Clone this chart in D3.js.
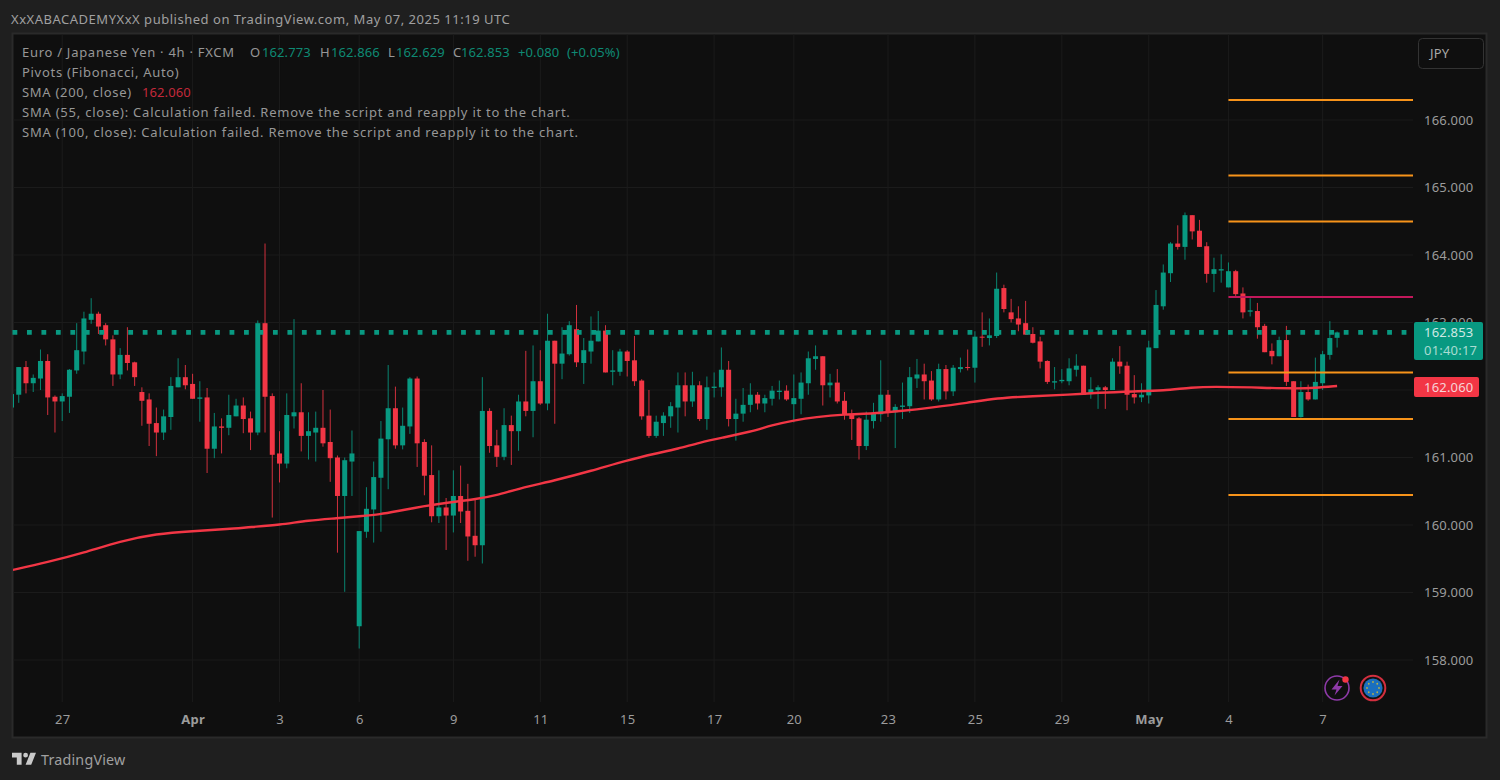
<!DOCTYPE html>
<html><head><meta charset="utf-8">
<style>
html,body{margin:0;padding:0;background:#1f1f1f;overflow:hidden}
svg{display:block}
text{font-family:"Noto Sans",sans-serif;font-size:13px;letter-spacing:.2px}
</style>
<script src="https://cdn.jsdelivr.net/npm/d3@7/dist/d3.min.js"></script>
</head><body><svg id="c" width="1500" height="780"></svg>
<script>
const openP=[161.74,161.93,162.34,162.10,162.17,162.43,161.90,161.83,161.90,162.29,
162.57,163.04,163.13,162.96,162.75,162.23,162.52,162.41,161.97,161.86,
161.51,161.37,161.60,162.04,162.19,162.09,161.87,161.89,161.13,161.46,
161.44,161.61,161.77,161.58,161.37,162.99,161.91,161.06,160.91,161.61,
161.67,161.32,161.37,161.44,161.23,161.00,160.43,160.94,158.50,159.90,
160.23,160.70,161.27,161.73,161.18,161.46,162.17,161.23,160.74,160.13,
160.26,160.14,160.43,160.21,159.84,159.70,161.69,161.18,161.01,161.48,
161.39,161.83,161.69,162.13,161.80,162.73,162.39,162.53,162.90,162.40,
162.57,162.72,162.88,162.27,162.27,162.57,162.44,162.14,161.62,161.32,
161.51,161.61,161.74,162.07,161.83,162.07,161.57,162.03,162.04,162.30,
161.57,161.65,161.78,161.93,161.80,161.87,161.97,161.99,161.79,161.87,
162.10,162.46,162.50,162.07,162.11,161.84,161.63,161.58,161.17,161.54,
161.64,161.93,161.67,161.75,161.76,162.17,162.23,162.14,161.86,162.31,
161.98,162.31,162.34,162.33,162.79,162.77,162.80,163.51,163.15,163.06,
162.99,162.83,162.72,162.43,162.11,162.13,162.13,162.30,162.36,161.94,
162.00,162.04,162.00,162.42,162.36,161.94,161.89,161.92,162.62,163.24,
163.73,164.17,164.12,164.59,164.36,164.13,163.72,163.77,163.52,163.76,
163.43,163.16,163.17,162.95,162.58,162.50,162.74,162.13,161.60,161.97,
161.86,162.10,162.52,162.773];
const highP=[161.94,162.34,162.43,162.23,162.60,162.53,161.92,161.95,162.31,162.99,
163.16,163.36,163.16,162.99,162.81,162.62,162.93,162.42,162.04,161.95,
161.74,161.71,162.19,162.47,162.37,162.24,162.13,162.03,161.66,161.58,
161.93,161.87,161.89,161.68,163.03,164.17,161.95,161.39,161.95,163.05,
162.10,161.67,161.68,162.00,161.71,161.03,161.00,161.40,159.91,160.56,
160.94,161.54,162.37,162.05,161.74,162.19,162.20,161.27,161.18,160.81,
160.40,160.81,160.88,160.61,160.37,162.19,161.73,161.41,161.73,161.62,
161.93,162.58,162.66,162.59,163.13,162.73,162.93,163.02,163.26,162.77,
163.09,163.17,162.96,162.59,162.61,162.59,162.80,162.16,162.00,161.62,
161.67,161.82,162.26,162.26,162.27,162.13,162.20,162.26,162.63,162.43,
161.87,162.03,162.10,161.97,161.93,162.06,162.14,162.07,162.23,162.26,
162.57,162.66,162.50,162.24,162.31,161.97,161.71,161.60,161.68,161.81,
162.44,162.00,161.79,162.11,162.34,162.46,162.39,162.28,162.39,162.37,
162.37,162.48,162.60,162.87,163.15,163.06,163.74,163.56,163.35,163.24,
163.32,162.93,162.79,162.44,162.34,162.31,162.47,162.53,162.36,162.19,
162.07,162.06,162.47,162.65,162.42,162.22,162.10,162.73,163.48,163.86,
164.19,164.44,164.63,164.59,164.52,164.19,163.96,164.01,163.89,163.78,
163.52,163.36,163.29,162.98,162.69,162.79,162.95,162.13,162.13,162.08,
162.48,162.58,163.02,162.866];
const lowP=[161.74,161.81,161.95,161.97,162.00,161.63,161.37,161.54,161.66,162.24,
162.38,162.98,162.83,162.66,162.06,162.16,162.29,162.06,161.47,161.17,
161.02,161.26,161.41,162.04,162.01,161.87,161.53,160.77,160.99,161.06,
161.33,161.61,161.36,161.11,161.33,161.37,160.11,160.63,160.84,161.43,
161.09,160.97,160.94,161.16,160.64,159.59,159.01,160.43,158.17,159.81,
159.74,159.90,160.53,161.13,161.12,161.35,160.86,160.44,160.04,160.03,
159.63,159.89,160.03,159.47,159.53,159.43,161.07,160.86,160.96,160.89,
161.10,161.61,161.30,161.78,161.70,161.50,162.16,162.51,162.34,162.09,
162.39,162.72,162.26,162.07,162.21,162.20,162.06,161.56,161.29,161.29,
161.32,161.44,161.37,161.61,161.75,161.54,161.41,161.89,161.90,161.46,
161.25,161.53,161.67,161.71,161.67,161.77,161.86,161.84,161.52,161.64,
161.93,162.30,161.77,161.89,161.80,161.56,161.26,160.97,161.11,161.43,
161.53,161.60,161.14,161.57,161.66,162.03,161.86,161.84,161.83,161.86,
161.91,162.26,162.29,162.11,162.64,162.66,162.77,163.15,163.00,162.87,
162.82,162.69,162.32,162.09,162.01,162.10,162.07,162.20,161.93,161.87,
161.72,161.72,162.00,162.24,161.70,161.80,161.82,161.80,162.62,163.19,
163.60,164.08,163.93,164.23,164.12,163.59,163.45,163.59,163.52,163.37,
163.06,163.09,162.76,162.56,162.38,162.50,162.06,161.60,161.59,161.84,
161.86,162.00,162.45,162.629];
const closeP=[161.94,162.34,162.10,162.18,162.43,161.89,161.83,161.91,162.30,162.59,
163.06,163.13,162.94,162.75,162.23,162.52,162.40,162.19,161.84,161.50,
161.37,161.61,162.06,162.19,162.07,161.87,161.89,161.13,161.46,161.44,
161.63,161.77,161.57,161.37,162.99,161.90,161.04,160.91,161.63,161.67,
161.32,161.39,161.44,161.21,160.99,160.43,160.96,161.06,159.91,160.24,
160.71,161.28,161.73,161.18,161.47,162.17,161.21,160.73,160.13,160.26,
160.14,160.43,160.20,159.83,159.70,161.69,161.17,161.01,161.48,161.39,
161.83,161.69,162.13,161.80,162.73,162.39,162.54,162.96,162.41,162.59,
162.73,162.88,162.26,162.29,162.57,162.43,162.13,161.61,161.32,161.53,
161.62,161.76,162.07,161.83,162.07,161.57,162.04,162.05,162.30,161.57,
161.65,161.78,161.93,161.80,161.88,161.99,161.99,161.86,161.88,162.11,
162.47,162.50,162.07,162.11,161.83,161.63,161.57,161.17,161.56,161.65,
161.93,161.67,161.75,161.77,162.19,162.23,162.13,161.86,162.31,161.98,
162.33,162.34,162.33,162.79,162.78,162.81,163.50,163.20,163.05,162.97,
162.82,162.70,162.42,162.12,162.13,162.15,162.32,162.36,161.93,162.01,
162.04,162.00,162.42,162.35,161.93,161.89,161.93,162.63,163.26,163.74,
164.17,164.12,164.59,164.35,164.12,163.72,163.79,163.79,163.76,163.42,
163.15,163.18,162.93,162.56,162.50,162.74,162.12,161.60,161.97,161.86,
162.12,162.53,162.77,162.853];

const smaIndex=[0,5,10,15,20,25,30,33,37,41,45,48,51,53,57,60,64,67,70,75,80,85,89,92,95,98,102,105,108,111,115,119,123,127,132,136,141,146,150,155,159,163,166,171,177,180,183];
const smaValue=[159.33,159.45,159.59,159.76,159.87,159.91,159.94,159.97,160.00,160.07,160.10,160.13,160.16,160.20,160.28,160.33,160.38,160.44,160.54,160.66,160.80,160.96,161.06,161.13,161.22,161.29,161.38,161.48,161.55,161.60,161.64,161.65,161.69,161.74,161.81,161.88,161.91,161.93,161.96,161.98,161.99,162.04,162.05,162.04,162.02,162.03,162.06];

const pivotLevels=[166.296,165.178,164.496,163.378,162.26,161.57,160.444];
const pivotNames=["R","R","R","P","S","S","S"];
const priceTicks=[158,159,160,161,162,163,164,165,166];
const priceTickLabels=[158,159,160,161,163,164,165,166];
const dateTickIndex=[7,25,37,48,61,73,85,97,108,121,133,145,157,168,181];
const dateTickLabel=["27","Apr","3","6","9","11","15","17","20","23","25","29","May","4","7"];
const lastPrice=162.853, smaLast=162.060;
const TXT="#979797",VAL="#0e8a74";
const legendItems=[
 ["Euro / Japanese Yen · 4h · FXCM",22,52,TXT,.72],
 ["O",250,52,TXT,.2],["162.773",262,52,VAL,.1],
 ["H",320,52,TXT,.2],["162.866",331,52,VAL,.1],
 ["L",388,52,TXT,.2],["162.629",396,52,VAL,.1],
 ["C",453,52,TXT,.2],["162.853",461,52,VAL,.1],
 ["+0.080",518,52,VAL,.1],["(+0.05%)",567,52,VAL,.1],
 ["Pivots (Fibonacci, Auto)",22,72,TXT,.7],
 ["SMA (200, close)",22,92,TXT,.7],["162.060",142,92,"#c4293b",.1],
 ["SMA (55, close): Calculation failed. Remove the script and reapply it to the chart.",22,112,TXT,.77],
 ["SMA (100, close): Calculation failed. Remove the script and reapply it to the chart.",22,132,TXT,.77]
];

const UP="#089981",DOWN="#F23645";
const svg=d3.select("#c");
const x=d3.scaleLinear().domain([0,183]).range([11.5,1337.1]);
const y=d3.scaleLinear().domain([158,166]).range([660,120]);
const PL=13,PR=1413,PT=34,PB=702;

svg.append("rect").attr("width",1500).attr("height",780).attr("fill","#1f1f1f");
svg.append("rect").attr("x",12.5).attr("y",33.5).attr("width",1474).attr("height",704)
  .attr("fill","#0f0f0f").attr("stroke","#2a2a2a").attr("stroke-width",2);
svg.append("defs").append("clipPath").attr("id","plot").append("rect")
  .attr("x",PL).attr("y",PT).attr("width",PR-PL).attr("height",PB-PT);

const gridC="#1b1b1b";
svg.append("g").selectAll("line").data(priceTicks).join("line")
 .attr("x1",PL).attr("x2",PR).attr("y1",d=>y(d)).attr("y2",d=>y(d)).attr("stroke",gridC);
svg.append("g").selectAll("line").data(dateTickIndex).join("line")
 .attr("x1",d=>x(d)).attr("x2",d=>x(d)).attr("y1",PT).attr("y2",PB).attr("stroke",gridC);

const plot=svg.append("g").attr("clip-path","url(#plot)");
const idx=d3.range(openP.length);
const col=i=>closeP[i]>=openP[i]?UP:DOWN;
plot.append("g").selectAll("line").data(idx).join("line")
 .attr("x1",i=>x(i)).attr("x2",i=>x(i)).attr("y1",i=>y(highP[i])).attr("y2",i=>y(lowP[i]))
 .attr("stroke",col).attr("stroke-width",1).attr("stroke-opacity",.85);
plot.append("g").selectAll("rect").data(idx).join("rect")
 .attr("x",i=>x(i)-2.5).attr("width",5)
 .attr("y",i=>y(Math.max(openP[i],closeP[i])))
 .attr("height",i=>Math.max(1,Math.abs(y(openP[i])-y(closeP[i]))))
 .attr("fill",col);

plot.append("path")
 .attr("d",d3.line().x((d,i)=>x(smaIndex[i])).y(d=>y(d)).curve(d3.curveBasis)(smaValue))
 .attr("fill","none").attr("stroke","#F23645").attr("stroke-width",2.4);

svg.append("g").selectAll("line").data(pivotLevels).join("line")
 .attr("x1",x(168)).attr("x2",PR).attr("y1",d=>y(d)).attr("y2",d=>y(d))
 .attr("stroke",(d,i)=>pivotNames[i]==="P"?"#c2185b":"#f7931a").attr("stroke-width",2);

svg.append("line").attr("x1",12.5).attr("x2",PR).attr("y1",y(lastPrice)).attr("y2",y(lastPrice))
 .attr("stroke",UP).attr("stroke-width",4.6).attr("stroke-dasharray","4.8 9.67");

// axes
const axisR=d3.axisRight(y).tickValues(priceTickLabels).tickFormat(d3.format(".3f")).tickSize(0).tickPadding(11);
const gy=svg.append("g").attr("transform",`translate(${PR},0)`).call(axisR);
gy.select(".domain").remove();
gy.selectAll("text").attr("fill","#9c9c9c").style("font-size","13px");
const axisB=d3.axisBottom(x).tickValues(dateTickIndex).tickFormat((d,i)=>dateTickLabel[i]).tickSize(0).tickPadding(13);
const gx=svg.append("g").attr("transform",`translate(0,${PB})`).call(axisB);
gx.select(".domain").remove();
gx.selectAll("text").attr("fill","#9c9c9c").style("font-size","13px")
  .style("font-weight",(d,i)=>/[A-Za-z]/.test(dateTickLabel[i])?"700":"400");

// price labels
svg.append("rect").attr("x",1414).attr("y",322).attr("width",69).attr("height",38).attr("rx",2).attr("fill",UP);
svg.append("text").attr("x",1424).attr("y",337).attr("fill","#cfe9e4").text(lastPrice.toFixed(3));
svg.append("text").attr("x",1424).attr("y",355).attr("fill","#a9dcd2").text("01:40:17");
svg.append("rect").attr("x",1414).attr("y",377).attr("width",65).attr("height",20).attr("rx",2).attr("fill",DOWN);
svg.append("text").attr("x",1424).attr("y",391.5).attr("fill","#f6d3d7").text(smaLast.toFixed(3));

// legend + header
svg.append("g").selectAll("text").data(legendItems).join("text")
 .attr("x",d=>d[1]).attr("y",d=>d[2]+4.5).attr("fill",d=>d[3]).style("letter-spacing",d=>d[4]+"px").text(d=>d[0]);
svg.append("text").attr("x",11).attr("y",23.5).attr("fill","#a0a0a0").style("letter-spacing",".52px")
 .text("XxXABACADEMYXxX published on TradingView.com, May 07, 2025 11:19 UTC");

// currency button
svg.append("rect").attr("x",1418.5).attr("y",38.5).attr("width",65).attr("height",30).attr("rx",4)
 .attr("fill","none").attr("stroke","#333");
svg.append("text").attr("x",1430).attr("y",58).attr("fill","#a8a8a8").text("JPY");

// badges
const bolt=svg.append("g").attr("transform","translate(1337,688)");
bolt.append("circle").attr("r",12).attr("fill","none").attr("stroke","#8e3aa8").attr("stroke-width",1.6);
bolt.append("path").attr("d","M2.5-8.5 L-5.5 1.5 L-0.5 1.5 L-2.5 7.5 L5.5-2 L0.5-2 Z").attr("fill","#8e3aa8");
bolt.append("circle").attr("cx",8.5).attr("cy",-8.5).attr("r",3.2).attr("fill","#f23645");
const eu=svg.append("g").attr("transform","translate(1373,688)");
eu.append("circle").attr("r",12.3).attr("fill","#111").attr("stroke","#d32f3f").attr("stroke-width",2);
eu.append("circle").attr("r",9.6).attr("fill","#1b6fbf");
eu.selectAll(".star").data(d3.range(8)).join("circle")
 .attr("cx",d=>6*Math.cos(d*Math.PI/4)).attr("cy",d=>6*Math.sin(d*Math.PI/4)).attr("r",.9).attr("fill","#b6b04a");

// footer logo
svg.append("path").attr("transform","translate(10.4,748) scale(.8)")
 .attr("d","M14 6H2v6h6v9h6V6Zm12 15h-7l6-15h7l-6 15Zm-7-9a3 3 0 1 0 0-6 3 3 0 0 0 0 6Z").attr("fill","#c9c9c9");
svg.append("text").attr("x",41).attr("y",765).attr("fill","#a0a0a0").style("font-size","14.3px").text("TradingView");
</script></body></html>
